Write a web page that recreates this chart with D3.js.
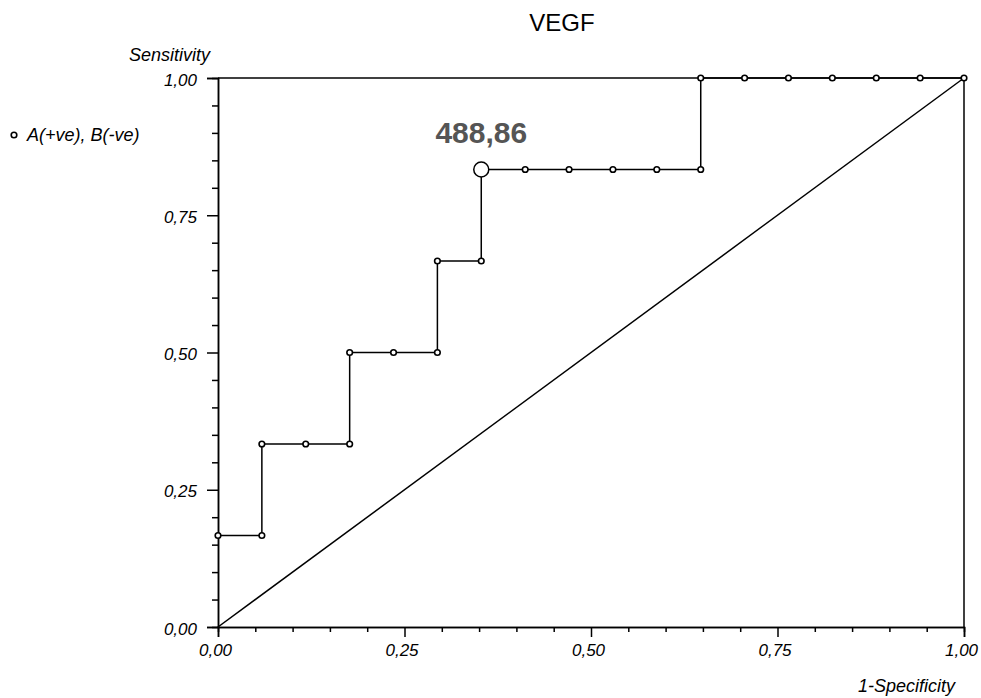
<!DOCTYPE html>
<html>
<head>
<meta charset="utf-8">
<script src="https://cdn.jsdelivr.net/npm/d3@7"></script>
<style>
  body { margin: 0; background: white; }
  text { font-family: "Liberation Sans", Arial, sans-serif; }
</style>
</head>
<body>
<script>
// ROC curve points (1-specificity, sensitivity)
const fpr = [0, 0.0588, 0.0588, 0.1176, 0.1765, 0.1765, 0.2353, 0.2941, 0.2941, 0.3529, 0.3529,
             0.4118, 0.4706, 0.5294, 0.5882, 0.6471, 0.6471, 0.7059, 0.7647, 0.8235, 0.8824, 0.9412, 1]
const sens = [0.1667, 0.1667, 0.3333, 0.3333, 0.3333, 0.5, 0.5, 0.5, 0.6667, 0.6667, 0.8333,
              0.8333, 0.8333, 0.8333, 0.8333, 0.8333, 1, 1, 1, 1, 1, 1, 1]
const cutPoint = [0.3529, 0.8333]
const cutLabel = "488,86"
const majorTicks = [0, 0.25, 0.5, 0.75, 1]
const minorTicks = [0.05, 0.1, 0.15, 0.2, 0.3, 0.35, 0.4, 0.45, 0.55, 0.6, 0.65, 0.7, 0.8, 0.85, 0.9, 0.95]

const width = 981
const height = 698
const plotLeft = 218, plotRight = 964, plotTop = 78, plotBottom = 627

const x = d3.scaleLinear().domain([0, 1]).range([plotLeft, plotRight])
const y = d3.scaleLinear().domain([0, 1]).range([plotBottom, plotTop])
const fmt = d => d3.format(".2f")(d).replace(".", ",")

const svg = d3.select("body").append("svg")
    .attr("width", width)
    .attr("height", height)

svg.append("text").attr("x", 562).attr("y", 31).attr("text-anchor", "middle")
    .style("font-size", "24px").text("VEGF")

// axes
const yMinor = svg.append("g").attr("transform", `translate(${plotLeft},0)`)
    .call(d3.axisLeft(y).tickValues(minorTicks).tickSize(6).tickFormat(""))
const yMajor = svg.append("g").attr("transform", `translate(${plotLeft},0)`)
    .call(d3.axisLeft(y).tickValues(majorTicks).tickSize(11).tickPadding(10).tickFormat(fmt))
const xMinor = svg.append("g").attr("transform", `translate(0,${plotBottom})`)
    .call(d3.axisBottom(x).tickValues(minorTicks).tickSize(5).tickFormat(""))
const xMajor = svg.append("g").attr("transform", `translate(0,${plotBottom})`)
    .call(d3.axisBottom(x).tickValues(majorTicks).tickSize(10).tickPadding(7).tickFormat(fmt))

svg.selectAll(".domain").attr("stroke-width", 1.5)
svg.selectAll(".tick line").attr("stroke-width", 1.5)
svg.selectAll(".tick text").style("font-size", "17px").style("font-style", "italic")
    .attr("font-family", null)
xMajor.selectAll(".tick text").attr("dx", -3)
yMajor.selectAll(".tick text").attr("dy", "0.42em")

// frame top and right
svg.append("line").attr("x1", x(0)).attr("x2", x(1)).attr("y1", y(1)).attr("y2", y(1))
    .attr("stroke", "black").attr("stroke-width", 1.5)
svg.append("line").attr("x1", x(1)).attr("x2", x(1)).attr("y1", y(1)).attr("y2", y(0))
    .attr("stroke", "black").attr("stroke-width", 1.5)

svg.append("text").attr("x", 210).attr("y", 61).attr("text-anchor", "end")
    .style("font-size", "18px").style("font-style", "italic").text("Sensitivity")
svg.append("text").attr("x", 955).attr("y", 692).attr("text-anchor", "end")
    .style("font-size", "18px").style("font-style", "italic").text("1-Specificity")

// diagonal
svg.append("line").attr("x1", x(0)).attr("y1", y(0)).attr("x2", x(1)).attr("y2", y(1))
    .attr("stroke", "black").attr("stroke-width", 1.5)

const pts = fpr.map((f, i) => [f, sens[i]])
svg.append("path")
    .attr("d", d3.line().x(d => x(d[0])).y(d => y(d[1]))(pts))
    .attr("fill", "none").attr("stroke", "black").attr("stroke-width", 1.5)

svg.selectAll(".pt").data(pts).enter().append("circle")
    .attr("cx", d => x(d[0])).attr("cy", d => y(d[1])).attr("r", 2.8)
    .attr("fill", "white").attr("stroke", "black").attr("stroke-width", 1.6)

svg.append("circle").attr("cx", x(cutPoint[0])).attr("cy", y(cutPoint[1])).attr("r", 7.5)
    .attr("fill", "white").attr("stroke", "black").attr("stroke-width", 1.5)
svg.append("text").attr("x", x(cutPoint[0])).attr("y", y(cutPoint[1]) - 27)
    .attr("text-anchor", "middle").style("font-size", "30px").style("font-weight", "bold")
    .attr("fill", "#555").text(cutLabel)

// legend
svg.append("circle").attr("cx", 14).attr("cy", 135).attr("r", 2.8)
    .attr("fill", "white").attr("stroke", "black").attr("stroke-width", 1.6)
svg.append("text").attr("x", 27).attr("y", 141)
    .style("font-size", "18px").style("font-style", "italic").text("A(+ve), B(-ve)")
</script>
</body>
</html>
